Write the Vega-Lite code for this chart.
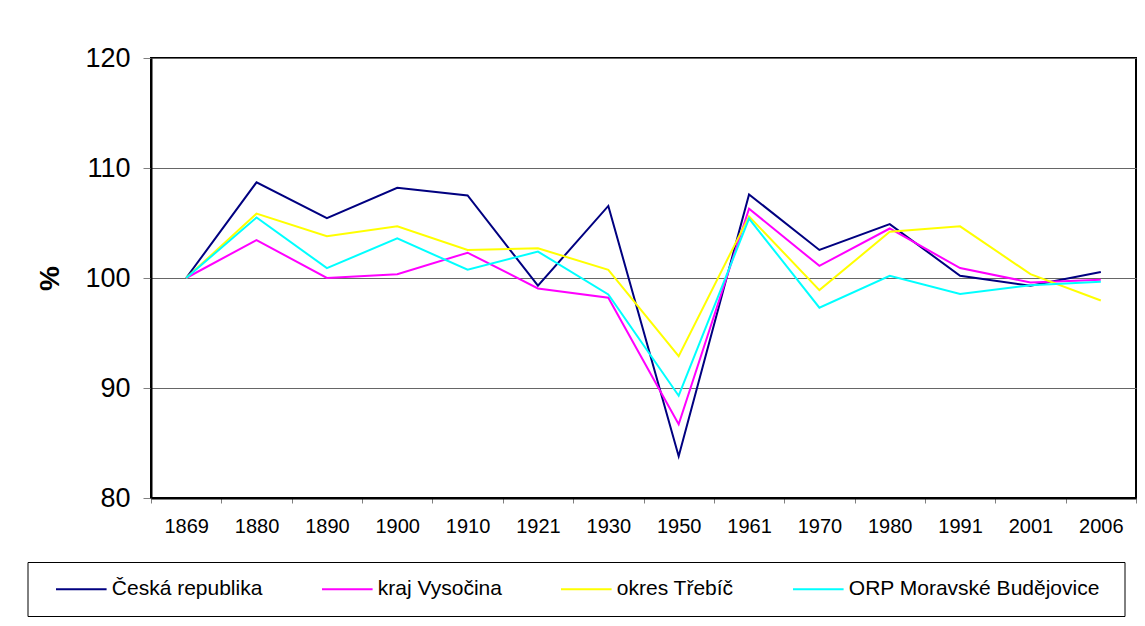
{
  "$schema": "https://vega.github.io/schema/vega-lite/v6.json",
  "width": 985,
  "height": 440,
  "autosize": "none",
  "padding": {"left": 151, "top": 58, "right": 9, "bottom": 128},
  "background": "white",
  "config": {
    "font": "Liberation Sans",
    "view": {"stroke": "#000000", "strokeWidth": 2}
  },
  "data": {
    "values": [
      {"year": "1869", "series": "Česká republika", "value": 100},
      {"year": "1880", "series": "Česká republika", "value": 108.7},
      {"year": "1890", "series": "Česká republika", "value": 105.45},
      {"year": "1900", "series": "Česká republika", "value": 108.2},
      {"year": "1910", "series": "Česká republika", "value": 107.5},
      {"year": "1921", "series": "Česká republika", "value": 99.3},
      {"year": "1930", "series": "Česká republika", "value": 106.55},
      {"year": "1950", "series": "Česká republika", "value": 83.8},
      {"year": "1961", "series": "Česká republika", "value": 107.6},
      {"year": "1970", "series": "Česká republika", "value": 102.55},
      {"year": "1980", "series": "Česká republika", "value": 104.9},
      {"year": "1991", "series": "Česká republika", "value": 100.2},
      {"year": "2001", "series": "Česká republika", "value": 99.3},
      {"year": "2006", "series": "Česká republika", "value": 100.55},
      {"year": "1869", "series": "kraj Vysočina", "value": 100},
      {"year": "1880", "series": "kraj Vysočina", "value": 103.45},
      {"year": "1890", "series": "kraj Vysočina", "value": 100.0},
      {"year": "1900", "series": "kraj Vysočina", "value": 100.35},
      {"year": "1910", "series": "kraj Vysočina", "value": 102.3},
      {"year": "1921", "series": "kraj Vysočina", "value": 99.05},
      {"year": "1930", "series": "kraj Vysočina", "value": 98.2},
      {"year": "1950", "series": "kraj Vysočina", "value": 86.7},
      {"year": "1961", "series": "kraj Vysočina", "value": 106.3},
      {"year": "1970", "series": "kraj Vysočina", "value": 101.1},
      {"year": "1980", "series": "kraj Vysočina", "value": 104.5},
      {"year": "1991", "series": "kraj Vysočina", "value": 100.9},
      {"year": "2001", "series": "kraj Vysočina", "value": 99.6},
      {"year": "2006", "series": "kraj Vysočina", "value": 99.85},
      {"year": "1869", "series": "okres Třebíč", "value": 100},
      {"year": "1880", "series": "okres Třebíč", "value": 105.85},
      {"year": "1890", "series": "okres Třebíč", "value": 103.8},
      {"year": "1900", "series": "okres Třebíč", "value": 104.7},
      {"year": "1910", "series": "okres Třebíč", "value": 102.55},
      {"year": "1921", "series": "okres Třebíč", "value": 102.7},
      {"year": "1930", "series": "okres Třebíč", "value": 100.75},
      {"year": "1950", "series": "okres Třebíč", "value": 92.9},
      {"year": "1961", "series": "okres Třebíč", "value": 105.6},
      {"year": "1970", "series": "okres Třebíč", "value": 98.9},
      {"year": "1980", "series": "okres Třebíč", "value": 104.2},
      {"year": "1991", "series": "okres Třebíč", "value": 104.7},
      {"year": "2001", "series": "okres Třebíč", "value": 100.35},
      {"year": "2006", "series": "okres Třebíč", "value": 97.95},
      {"year": "1869", "series": "ORP Moravské Budějovice", "value": 100},
      {"year": "1880", "series": "ORP Moravské Budějovice", "value": 105.5},
      {"year": "1890", "series": "ORP Moravské Budějovice", "value": 100.9},
      {"year": "1900", "series": "ORP Moravské Budějovice", "value": 103.6},
      {"year": "1910", "series": "ORP Moravské Budějovice", "value": 100.75},
      {"year": "1921", "series": "ORP Moravské Budějovice", "value": 102.4},
      {"year": "1930", "series": "ORP Moravské Budějovice", "value": 98.5},
      {"year": "1950", "series": "ORP Moravské Budějovice", "value": 89.3},
      {"year": "1961", "series": "ORP Moravské Budějovice", "value": 105.4},
      {"year": "1970", "series": "ORP Moravské Budějovice", "value": 97.3},
      {"year": "1980", "series": "ORP Moravské Budějovice", "value": 100.2},
      {"year": "1991", "series": "ORP Moravské Budějovice", "value": 98.55},
      {"year": "2001", "series": "ORP Moravské Budějovice", "value": 99.35},
      {"year": "2006", "series": "ORP Moravské Budějovice", "value": 99.65}
    ]
  },
  "mark": {"type": "line", "strokeWidth": 2},
  "encoding": {
    "x": {
      "field": "year",
      "type": "ordinal",
      "scale": {"type": "band", "paddingInner": 0, "paddingOuter": 0},
      "axis": {
        "title": null,
        "labelAngle": 0,
        "labelFontSize": 20,
        "labelColor": "#000000",
        "labelPadding": 13,
        "tickBand": "extent",
        "tickSize": 5,
        "tickColor": "#808080",
        "domainColor": "#000000",
        "domainWidth": 2,
        "grid": false
      }
    },
    "y": {
      "field": "value",
      "type": "quantitative",
      "scale": {"domain": [80, 120], "nice": false, "zero": false},
      "axis": {
        "title": "%",
        "titleFontSize": 28,
        "titleFontWeight": "bold",
        "titleColor": "#000000",
        "titlePadding": 20,
        "values": [80, 90, 100, 110, 120],
        "labelFontSize": 27,
        "labelColor": "#000000",
        "labelPadding": 13,
        "tickSize": 8,
        "tickColor": "#808080",
        "domainColor": "#000000",
        "domainWidth": 2,
        "grid": true,
        "gridColor": "#666666",
        "gridWidth": 1
      }
    },
    "color": {
      "field": "series",
      "type": "nominal",
      "scale": {
        "domain": ["Česká republika", "kraj Vysočina", "okres Třebíč", "ORP Moravské Budějovice"],
        "range": ["#000080", "#FF00FF", "#FFFF00", "#00FFFF"]
      },
      "legend": {
        "title": " ",
        "titleOrient": "right",
        "titlePadding": 8,
        "titleFontSize": 21,
        "orient": "none",
        "legendX": -123.5,
        "legendY": 504,
        "direction": "horizontal",
        "columns": 4,
        "symbolType": "M-4,0H4",
        "symbolSize": 160,
        "symbolStrokeWidth": 2,
        "symbolOffset": 26.8,
        "labelFontSize": 21,
        "labelLimit": 400,
        "labelColor": "#000000",
        "labelOffset": 20,
        "columnPadding": 47,
        "padding": 16.5,
        "strokeColor": "#000000"
      }
    }
  }
}
